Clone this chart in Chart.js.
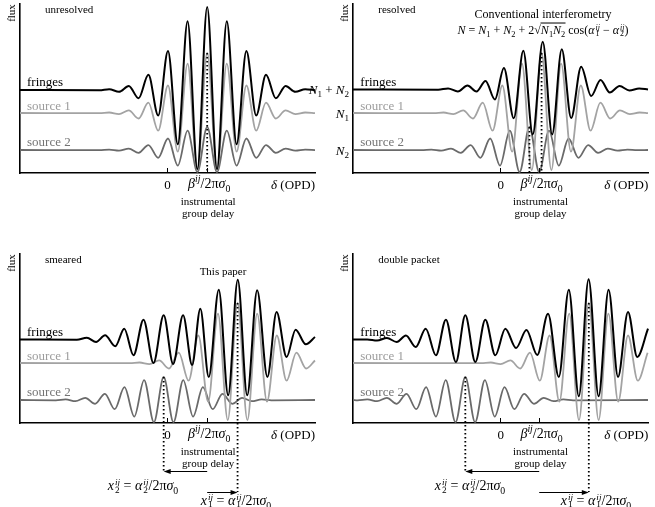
<!DOCTYPE html>
<html>
<head>
<meta charset="utf-8">
<title>Fringe packets</title>
<script src="https://cdn.jsdelivr.net/npm/chart.js@4.4.1/dist/chart.umd.min.js"></script>
<style>
    html, body { margin: 0; padding: 0; background: #fff; }
    #fig {
        position: relative; width: 655px; height: 507px; overflow: hidden;
        font-family: "Liberation Serif", "DejaVu Serif", serif; color: #000;
    }
    #fig canvas { position: absolute; }
    .t { position: absolute; white-space: nowrap; font-size: 11px; line-height: 1; }
    .l { transform: translate(0, -50%); }
    .c { transform: translate(-50%, -50%); }
    .r { transform: translate(-100%, -50%); }
    .flux { transform: translate(-50%, -50%) rotate(-90deg); }
    .big { font-size: 13px; }
    .mid { font-size: 13px; }
    .beta { font-size: 14px; }
    .form { font-size: 12px; }
    .xl { font-size: 14px; }
    .s1 { color: #9c9c9c; }
    .s2 { color: #747474; }
    sub, sup { font-size: 0.7em; line-height: 0; }
    .ss { display: inline-flex; flex-direction: column; vertical-align: middle; font-size: 0.66em; line-height: 0.85; margin-left: 1px; }
    .ol { display: inline-block; border-top: 1px solid #000; line-height: 1.15; }
</style>
</head>
<body>
<div id="fig"></div>
<script>
// x: optical path difference in fringe periods (0 = zero OPD)
// y: flux above the axis (arbitrary units)
const X_MIN = -7.5;
const X_MAX = 7.55;
const Y_MAX = 169;

// --- unresolved ---
const unresolvedX = [-7.5, -3.45, -2.95, -2.45, -1.95, -1.45, -0.95, -0.45, 0.05, 0.55, 1.05, 1.55, 2.05, 2.55, 3.05, 3.55, 4.05, 4.55, 5.05, 5.55, 6.05, 6.55, 7.05, 7.55];
const unresolvedFringes = [83, 82.7, 83.8, 81.2, 87, 74.7, 98.2, 57.5, 122, 28.7, 151.7, 3.9, 166, 3.9, 151.7, 28.7, 122, 57.5, 98.2, 74.7, 87, 81.2, 83.8, 82.7];
const unresolvedSource1 = [60, 59.8, 60.5, 58.9, 62.6, 54.5, 70.3, 42.3, 87.5, 21.3, 109.4, 2.9, 120, 2.9, 109.4, 21.3, 87.5, 42.3, 70.3, 54.5, 62.6, 58.9, 60.5, 59.8];
const unresolvedSource2 = [23, 22.9, 23.3, 22.3, 24.4, 20.2, 27.9, 15.2, 34.5, 7.4, 42.3, 1.0, 46, 1.0, 42.3, 7.4, 34.5, 15.2, 27.9, 20.2, 24.4, 22.3, 23.3, 22.9];
const unresolvedTicks = [0, 2.05];

// --- resolved ---
const resolvedFringesX = [-7.5, -3.15, -2.65, -2.15, -1.66, -1.2, -0.74, -0.26, 0.2, 0.7, 1.19, 1.67, 2.18, 2.66, 3.15, 3.63, 4.14, 4.65, 5.13, 5.6, 6.1, 6.6, 7.1, 7.55];
const resolvedFringes = [83.5, 83.2, 84.6, 81.5, 87.5, 81.5, 92, 73.5, 105, 54.7, 122.3, 38.5, 131.3, 38.5, 123.7, 55, 106.3, 77, 93, 80.5, 87, 82.5, 84.5, 83.5];
const resolvedSource1X = [-7.5, -3.38, -2.88, -2.38, -1.88, -1.38, -0.88, -0.38, 0.12, 0.62, 1.12, 1.62, 2.12, 2.62, 3.12, 3.62, 4.12, 4.62, 5.12, 5.62, 6.12, 6.62, 7.12, 7.55];
const resolvedSource1 = [60, 59.8, 60.5, 58.9, 62.6, 54.5, 70.3, 42.3, 87.5, 21.3, 109.4, 2.9, 120, 2.9, 109.4, 21.3, 87.5, 42.3, 70.3, 54.5, 62.6, 58.9, 60.5, 59.8];
const resolvedSource2X = [-7.5, -4, -3.5, -3, -2.5, -2, -1.5, -1, -0.5, 0, 0.5, 1, 1.5, 2, 2.5, 3, 3.5, 4, 4.5, 5, 5.5, 6, 6.5, 7, 7.55];
const resolvedSource2 = [23, 22.9, 23.3, 22.3, 24.4, 20.2, 27.9, 15.2, 34.5, 7.4, 42.3, 1.0, 46, 1.0, 42.3, 7.4, 34.5, 15.2, 27.9, 20.2, 24.4, 22.3, 23.3, 22.9, 23];
const resolvedTicks = [0, 2.0];

// --- smeared ---
const smearedFringesX = [-7.5, -4.6, -4.09, -3.62, -3.16, -2.64, -2.18, -1.71, -1.2, -0.69, -0.17, 0.31, 0.82, 1.28, 1.7, 2.13, 2.64, 3.12, 3.61, 4.09, 4.6, 5.12, 5.59, 6.1, 6.56, 7.08, 7.55];
const smearedFringes = [83.5, 83.2, 85.3, 81, 87.7, 76.7, 94.3, 67.7, 103.3, 60, 107.7, 59, 107.7, 58, 114.3, 46, 133.3, 27.7, 143.3, 27.7, 132.7, 46, 111, 66, 93.3, 78.7, 86];
const smearedSource1X = [-7.5, -1.9, -1.4, -0.9, -0.4, 0.1, 0.6, 1.1, 1.6, 2.1, 2.6, 3.1, 3.6, 4.1, 4.6, 5.1, 5.6, 6.1, 6.6, 7.1, 7.55];
const smearedSource1 = [60, 59.8, 60.5, 58.9, 62.6, 54.5, 70.3, 42.3, 87.5, 21.3, 109.4, 2.9, 120, 2.9, 109.4, 21.3, 87.5, 42.3, 70.3, 54.5, 62.5];
const smearedSource2X = [-7.5, -5.67, -5.17, -4.67, -4.17, -3.67, -3.17, -2.67, -2.17, -1.67, -1.17, -0.67, -0.17, 0.33, 0.83, 1.33, 1.83, 2.33, 2.83, 3.33, 3.83, 4.33, 4.83, 5.33, 7.55];
const smearedSource2 = [23, 22.7, 23.6, 21.8, 25.2, 19.2, 29.2, 13.8, 35.8, 6.4, 42.9, 0.8, 46, 0.8, 42.9, 6.4, 35.8, 13.8, 29.2, 19.2, 25.2, 21.8, 23.6, 22.7, 23];
const smearedTicks = [0, 2.05];

// --- double packet ---
const doubleFringesX = [-7.5, -6.77, -6.27, -5.77, -5.27, -4.8, -4.3, -3.79, -3.27, -2.76, -2.25, -1.77, -1.26, -0.75, -0.24, 0.27, 0.82, 1.35, 1.9, 2.45, 3.0, 3.51, 4.02, 4.52, 5.03, 5.54, 6.02, 6.53, 7.0, 7.55];
const doubleFringes = [83.5, 83.6, 82.5, 85, 81, 87.5, 76, 94.3, 67.7, 103.3, 61, 107.7, 61, 103.3, 67.7, 94.3, 75, 93, 68, 109.3, 46, 133.3, 26.7, 143.7, 26.7, 133.3, 46, 111, 66, 94.3];
const doubleSource1X = [-7.5, -0.97, -0.47, 0.03, 0.53, 1.03, 1.53, 2.03, 2.53, 3.03, 3.53, 4.03, 4.53, 5.03, 5.53, 6.03, 6.53, 7.03, 7.53];
const doubleSource1 = [60, 59.8, 60.5, 58.9, 62.6, 54.5, 70.3, 42.3, 87.5, 21.3, 109.4, 2.9, 120, 2.9, 109.4, 21.3, 87.5, 42.3, 70.3];
const doubleSource2X = [-7.5, -7.27, -6.77, -6.27, -5.77, -5.27, -4.77, -4.27, -3.77, -3.27, -2.77, -2.27, -1.77, -1.27, -0.77, -0.27, 0.23, 0.73, 1.23, 1.73, 2.23, 2.73, 3.23, 3.73, 7.55];
const doubleSource2 = [23, 22.7, 23.6, 21.8, 25.2, 19.2, 29.2, 13.8, 35.8, 6.4, 42.9, 0.8, 46, 0.8, 42.9, 6.4, 35.8, 13.8, 29.2, 19.2, 25.2, 21.8, 23.6, 22.7, 23];
const doubleTicks = [0, 2.0];

// packet centres (x) and their peak heights, marked with dotted lines
const unresolvedMarks = [[2.05, 120]];
const resolvedMarks = [[2.12, 120], [1.5, 46]];
const smearedMarks = [[3.6, 120], [-0.17, 46]];
const doubleMarks = [[4.53, 120], [-1.77, 46]];

const tickLabels = ['0', '<i>β</i><sup><i>ij</i></sup>/2π<i>σ</i><sub>0</sub>'];

// Colours
const BLACK = '#000000';
const LIGHT = '#a3a3a3';
const DARK = '#6a6a6a';

const PLOT_W = 295;
const fig = document.getElementById('fig');

const pts = (xs, ys) => xs.map((x, i) => ({ x: x, y: ys[i] }));

// Panel layout (plot-area corner in page pixels)
const panels = [
    { left: 20, top: 4, ticks: unresolvedTicks, marks: unresolvedMarks,
      curves: [[unresolvedX, unresolvedFringes], [unresolvedX, unresolvedSource1], [unresolvedX, unresolvedSource2]] },
    { left: 353.3, top: 4, ticks: resolvedTicks, marks: resolvedMarks,
      curves: [[resolvedFringesX, resolvedFringes], [resolvedSource1X, resolvedSource1], [resolvedSource2X, resolvedSource2]] },
    { left: 20, top: 253.7, ticks: smearedTicks, marks: smearedMarks, arrows: true,
      curves: [[smearedFringesX, smearedFringes], [smearedSource1X, smearedSource1], [smearedSource2X, smearedSource2]] },
    { left: 353.3, top: 253.7, ticks: doubleTicks, marks: doubleMarks, arrows: true,
      curves: [[doubleFringesX, doubleFringes], [doubleSource1X, doubleSource1], [doubleSource2X, doubleSource2]] }
];

// Ticks, dotted packet markers and delay arrows
function makeAnnotate(p) {
    return {
        id: 'annotate',
        afterDatasetsDraw(chart) {
            const { ctx, chartArea, scales } = chart;
            const xs = scales.x, ys = scales.y;
            const bottom = chartArea.bottom;
            ctx.save();
            ctx.strokeStyle = '#000';
            ctx.fillStyle = '#000';

            ctx.lineWidth = 1;
            p.ticks.forEach(v => {
                const px = Math.round(xs.getPixelForValue(v)) + 0.5;
                ctx.beginPath();
                ctx.moveTo(px, bottom);
                ctx.lineTo(px, bottom - 5);
                ctx.stroke();
            });

            ctx.setLineDash([1.5, 2.5]);
            ctx.lineWidth = 1.8;
            p.marks.forEach(([mx, my], i) => {
                const px = xs.getPixelForValue(mx);
                const end = p.arrows ? bottom + (i === 0 ? 69 : 48) : bottom;
                ctx.beginPath();
                ctx.moveTo(px, ys.getPixelForValue(my));
                ctx.lineTo(px, end);
                ctx.stroke();
            });
            ctx.setLineDash([]);

            if (p.arrows) {
                const from = xs.getPixelForValue(p.ticks[1]);
                p.marks.forEach(([mx], i) => {
                    const to = xs.getPixelForValue(mx);
                    const yy = bottom + (i === 0 ? 69 : 48) + 0.5;
                    const dir = Math.sign(to - from);
                    ctx.lineWidth = 1;
                    ctx.beginPath();
                    ctx.moveTo(from, yy);
                    ctx.lineTo(to - dir * 5, yy);
                    ctx.stroke();
                    ctx.beginPath();
                    ctx.moveTo(to, yy);
                    ctx.lineTo(to - dir * 7, yy - 2.6);
                    ctx.lineTo(to - dir * 7, yy + 2.6);
                    ctx.closePath();
                    ctx.fill();
                });
            }
            ctx.restore();
        }
    };
}

function makeChart(p) {
    const padB = p.arrows ? 80 : 6;
    const canvas = document.createElement('canvas');
    canvas.width = PLOT_W + 20;
    canvas.height = Y_MAX + 6 + padB;
    canvas.style.left = (p.left - 10) + 'px';
    canvas.style.top = (p.top - 6) + 'px';
    canvas.style.width = canvas.width + 'px';
    canvas.style.height = canvas.height + 'px';
    fig.appendChild(canvas);

    const colours = [BLACK, LIGHT, DARK];
    const widths = [2, 1.8, 1.8];

    const chart = new Chart(canvas.getContext('2d'), {
        type: 'line',
        data: {
            datasets: p.curves.map(([xs, ys], i) => ({
                data: pts(xs, ys),
                borderColor: colours[i],
                borderWidth: widths[i],
                pointRadius: 0,
                fill: false,
                cubicInterpolationMode: 'monotone',
                clip: false,
                order: i + 1
            }))
        },
        options: {
            responsive: false,
            animation: false,
            devicePixelRatio: 1,
            events: [],
            layout: { padding: { left: 10, right: 10, top: 6, bottom: padB } },
            plugins: { legend: { display: false }, tooltip: { enabled: false } },
            scales: {
                x: {
                    type: 'linear', min: X_MIN, max: X_MAX,
                    ticks: { display: false },
                    grid: { display: false },
                    border: { display: true, color: '#000', width: 1.6 },
                    afterFit: s => { s.height = 0; }
                },
                y: {
                    min: 0, max: Y_MAX,
                    ticks: { display: false },
                    grid: { display: false },
                    border: { display: true, color: '#000', width: 1.6 },
                    afterFit: s => { s.width = 0; }
                }
            }
        },
        plugins: [makeAnnotate(p)]
    });
    p.chart = chart;
    return chart;
}

function addText(html, x, y, cls) {
    const d = document.createElement('div');
    d.className = 't ' + cls;
    d.style.left = x + 'px';
    d.style.top = y + 'px';
    d.innerHTML = html;
    fig.appendChild(d);
}

panels.forEach(makeChart);

// Axis texts placed from the chart scales
const titles = ['unresolved', 'resolved', 'smeared', 'double packet'];
panels.forEach((p, k) => {
    const xs = p.chart.scales.x;
    const ox = p.left - 10;
    const bottom = p.top + Y_MAX;
    const px = v => ox + xs.getPixelForValue(v);

    addText('flux', p.left - 9, p.top + 9, 'flux');
    addText(titles[k], p.left + 25, p.top + 5, 'l');
    addText('fringes', p.left + 7, p.top + 77, 'l big');
    addText('source 1', p.left + 7, p.top + 101, 'l big s1');
    addText('source 2', p.left + 7, p.top + 137, 'l big s2');

    addText(tickLabels[0], px(p.ticks[0]) + 0.5, bottom + 11, 'c mid');
    addText(tickLabels[1], px(p.ticks[1]) + 2, bottom + 11, 'c beta');
    addText('<i>δ</i> (OPD)', p.left + PLOT_W - 22, bottom + 11, 'c mid');
    addText('instrumental', px(p.ticks[1]) + 1, bottom + 28, 'c');
    addText('group delay', px(p.ticks[1]) + 1, bottom + 40, 'c');
});

// Panel-specific annotations
addText('<i>N</i><sub>1</sub> + <i>N</i><sub>2</sub>', 349, 89, 'r mid');
addText('<i>N</i><sub>1</sub>', 349, 113, 'r mid');
addText('<i>N</i><sub>2</sub>', 349, 150, 'r mid');
addText('Conventional interferometry', 543, 14, 'c form');
addText('<i>N</i> = <i>N</i><sub>1</sub> + <i>N</i><sub>2</sub> + 2√<span class="ol"><i>N</i><sub>1</sub><i>N</i><sub>2</sub></span> cos(<i>α</i><span class="ss"><i>ij</i><span>1</span></span> − <i>α</i><span class="ss"><i>ij</i><span>2</span></span>)', 543, 30, 'c form');
addText('This paper', 223, 271, 'c');

const x2Label = '<i>x</i><span class="ss"><i>ij</i><span>2</span></span> = <i>α</i><span class="ss"><i>ij</i><span>2</span></span>/2π<i>σ</i><sub>0</sub>';
const x1Label = '<i>x</i><span class="ss"><i>ij</i><span>1</span></span> = <i>α</i><span class="ss"><i>ij</i><span>1</span></span>/2π<i>σ</i><sub>0</sub>';
addText(x2Label, 143, 487, 'c xl');
addText(x1Label, 236, 501.5, 'c xl');
addText(x2Label, 470, 487, 'c xl');
addText(x1Label, 596, 501.5, 'c xl');
</script>
</body>
</html>
